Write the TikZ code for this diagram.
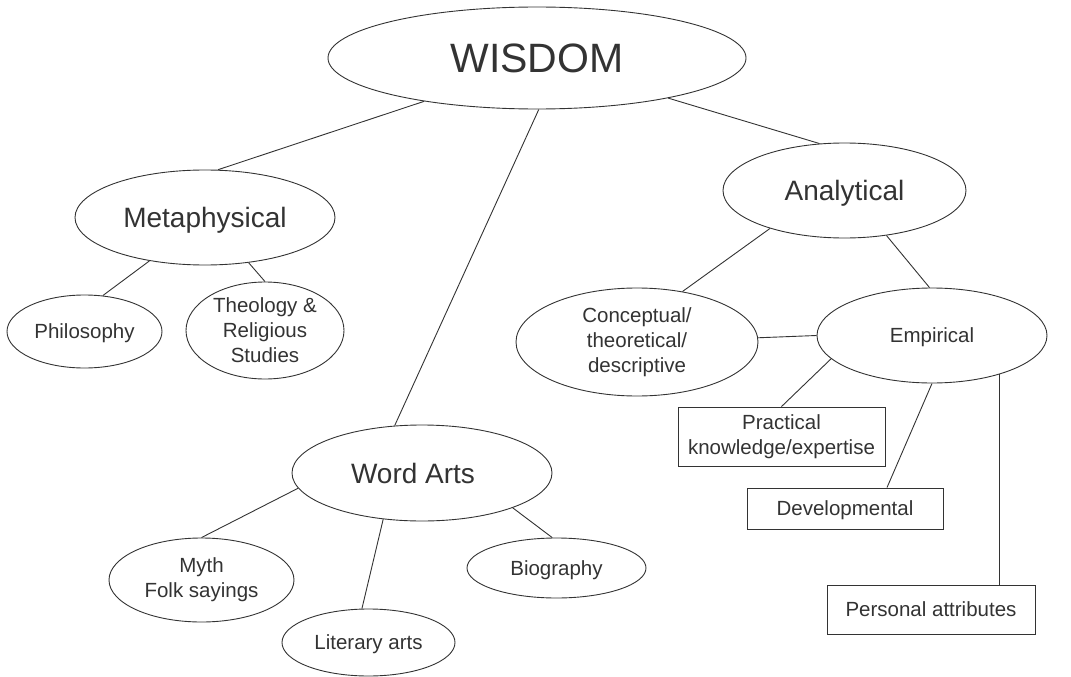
\documentclass[tikz,border=0pt]{standalone}
\usepackage{fontspec}
\setmainfont{Liberation Sans}
\usetikzlibrary{shapes.geometric,calc}
\definecolor{ink}{HTML}{333333}
\begin{document}
\begin{tikzpicture}[x=1pt,y=-1pt,line width=0.9pt,
  every node/.style={text=ink},
  ell/.style={ellipse,draw=ink,inner sep=0pt},
  box/.style={rectangle,draw=ink,inner sep=0pt,align=center},
  big/.style={font=\fontsize{41}{48}\selectfont},
  mid/.style={font=\fontsize{28}{33}\selectfont},
  small/.style={font=\fontsize{20.5}{25}\selectfont},
  one/.style={text depth=0pt},
  link/.style={draw=ink,line width=0.9pt}]
\useasboundingbox (0,0) rectangle (1071,677);
\node[ell,big,one,minimum width=418pt,minimum height=102pt] (wis) at (537,58) {WISDOM};
\node[ell,mid,one,minimum width=260pt,minimum height=95pt] (met) at (205,217.5) {Metaphysical};
\node[ell,small,one,minimum width=155pt,minimum height=73pt] (phi) at (84.5,331.5) {Philosophy};
\node[ell,small,align=center,minimum width=158pt,minimum height=97pt] (the) at (265,330.5) {Theology \&\\Religious\\Studies};
\node[ell,mid,one,minimum width=243pt,minimum height=95pt] (ana) at (844.5,190.5) {Analytical};
\node[ell,small,align=center,minimum width=242pt,minimum height=108pt] (con) at (637,342) {Conceptual/\\theoretical/\\descriptive};
\node[ell,small,one,minimum width=230pt,minimum height=95pt] (emp) at (932,335.5) {Empirical};
\node[ell,mid,one,minimum width=260pt,minimum height=96pt] (wa) at (422,473) {\hspace*{-18pt}Word Arts};
\node[ell,small,align=center,minimum width=185pt,minimum height=84pt] (myth) at (201.5,580) {Myth\\Folk sayings};
\node[ell,small,one,minimum width=173pt,minimum height=67pt] (lit) at (368.5,642.5) {Literary arts};
\node[ell,small,one,minimum width=179pt,minimum height=60pt] (bio) at (556.5,568) {Biography};
\node[box,small,minimum width=207pt,minimum height=59pt] (pra) at (781.5,436.5) {Practical\\knowledge/expertise};
\node[box,small,one,minimum width=196pt,minimum height=41pt] (dev) at (845,508.5) {Developmental};
\node[box,small,one,minimum width=208pt,minimum height=49pt] (per) at (931,609.5) {Personal attributes};
\draw[link] (wis.201.1) -- (met.75.8);
\draw[link] (wis.272.2) -- (wa.120.3);
\draw[link] (wis.343.3) -- (ana.118.2);
\draw[link] (met.218) -- (phi.63.8);
\draw[link] (met.314.7) -- (the.90);
\draw[link] (ana.207.3) -- (con.48);
\draw[link] (ana.313) -- (emp.93.5);
\draw[link] (con.2.8) -- (emp.180.7);
\draw[link] (emp.193.5) -- (pra.north);
\draw[link] (emp.270) -- ([xshift=42pt]dev.north);
\draw[link] (emp.330.5) -- (emp.330.5 |- per.north);
\draw[link] (wa.187.3) -- (myth.90);
\draw[link] (wa.230.3) -- (lit.101);
\draw[link] (wa.339.5) -- (bio.98.5);
\end{tikzpicture}
\end{document}
